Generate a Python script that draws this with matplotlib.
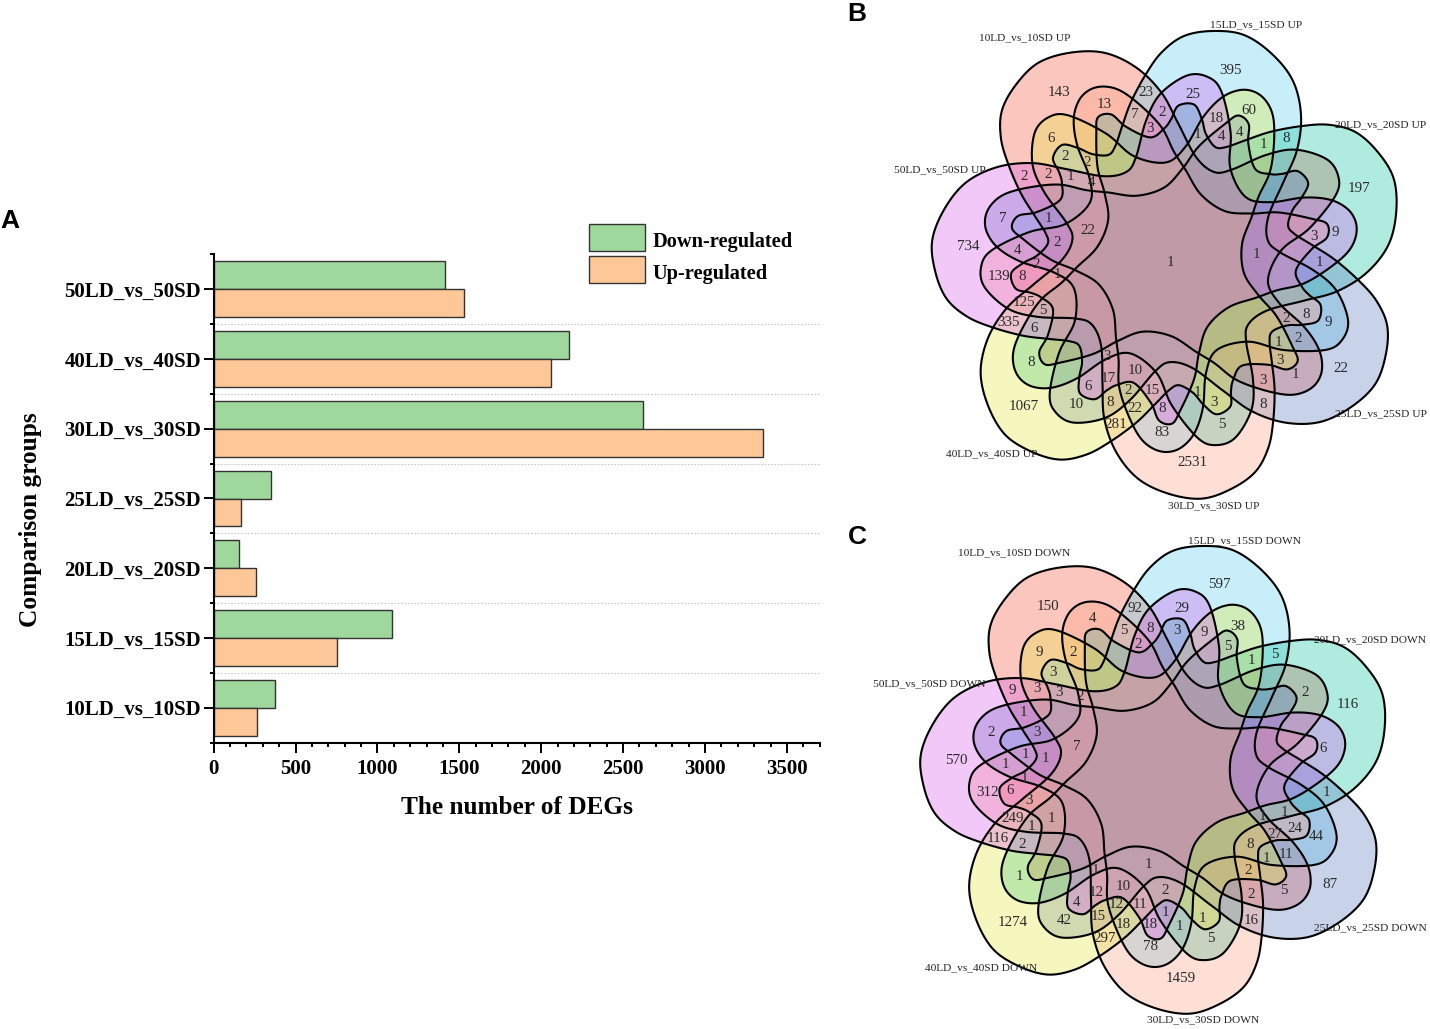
import numpy as np
import matplotlib
matplotlib.use('Agg')
import matplotlib.pyplot as plt
from matplotlib.patches import Patch, Polygon

plt.rcParams['font.family'] = ['Liberation Serif', 'DejaVu Serif']

# bar chart values
groups = ['10LD_vs_10SD', '15LD_vs_15SD', '20LD_vs_20SD', '25LD_vs_25SD',
          '30LD_vs_30SD', '40LD_vs_40SD', '50LD_vs_50SD']
down_regulated = [375, 1087, 155, 353, 2624, 2168, 1414]
up_regulated = [265, 754, 259, 165, 3352, 2058, 1530]

# venn counts, one entry per region, None where the region has no number
region_up = [143, 395, 23, 25, 13, 60, 7, 2, 18, 3, None, 6, 4, 4, 1, 1, 8, None, 2, 2,
             2, 2, 1, 4, 197, None, 7, 1, None, 22, 9, 3, 734, 2, 1, 4, None, 1, 1, 2,
             1, 139, 8, None, 125, 5, None, 335, 6, 8, 3, None, 10, 17, 6, 15, None, 1, 3, 2,
             8, 22, 8, None, None, 10, 281, 83, 5, 1067, 2531, 22, 9, 8, 2, 2, 1, 3, None, None,
             1, 3, 8, None, None, None]
region_down = [150, 597, 92, 29, 4, 38, 5, 8, 9, 2, 3, 9, 5, None, None, 1, 5, 2, 3, None,
               9, 3, 3, 2, 116, 2, 2, 3, 1, 7, 6, None, 570, 1, None, 1, 1, None, None, 1,
               None, 312, 6, 3, 249, 1, 1, 116, 2, 1, 1, 1, 10, 12, 4, 11, 2, None, 1, 12,
               15, 18, 18, 1, 1, 42, 297, 78, 5, 1274, 1459, 87, 44, 24, 27, 11, 1, None, 8, 2,
               5, 2, 16, 1, 1, 1]

# where each region's number sits, pixels from the venn centre
region_xy = [(-111, -171), (61, -193), (-24, -170), (23, -169), (-66, -159), (79, -152),
             (-35, -148), (-8, -150), (46, -145), (-20, -134), (19, -148), (-119, -125),
             (69, -131), (52, -126), (27, -128), (93, -118), (116, -124), (-85, -125),
             (-105, -106), (-83, -101), (-146, -87), (-122, -89), (-100, -86), (-78, -81),
             (189, -74), (147, -86), (-167, -45), (-122, -45), (-135, -65), (-82, -32),
             (165, -30), (144, -27), (-202, -17), (-113, -20), (86, -9), (-153, -13),
             (-133, -23), (149, -1), (0, -1), (-134, 1), (-113, 11), (-171, 14), (-148, 13),
             (-129, 23), (-146, 40), (-127, 48), (-107, 40), (-161, 60), (-136, 66),
             (-139, 99), (-63, 93), (-10, 86), (-35, 108), (-62, 115), (-82, 124), (-18, 127),
             (7, 113), (27, 129), (44, 140), (-42, 127), (-60, 139), (-35, 146), (-8, 146),
             (7, 134), (21, 149), (-94, 142), (-54, 161), (-8, 169), (52, 161), (-146, 144),
             (22, 200), (171, 106), (158, 59), (136, 51), (116, 56), (128, 76), (108, 80),
             (110, 97), (92, 67), (90, 93), (125, 112), (93, 117), (93, 142), (104, 38),
             (126, 34), (168, 15)]

# outline of the 15LD set, pixels from the centre, clockwise from the lobe's left crossing
outline = np.array([
    (-24, -188), (-8, -210), (14, -226), (43, -231), (74, -227), (102, -208),
    (123, -181), (131, -147), (127, -112), (113.5, -80.1), (98.4, -45.5),
    (97.6, -22.4), (109.9, -9.8), (143, 8), (166, 28), (178, 58), (172, 78), (155, 88),
    (113.5, 88), (78.4, 79.7), (46.8, 88), (36, 111), (33, 145), (25, 170),
    (12, 185), (-3, 190), (-18, 186), (-31, 174), (-43, 150), (-51, 124),
    (-51.4, 98), (-54, 76), (-57.2, 47.2), (-71.4, 22.2), (-94.5, 8.3), (-119.7, -2.7),
    (-147, -23), (-158, -34), (-152, -46), (-133, -50), (-109.8, -62.2), (-108.1, -78.9),
    (-111, -90), (-117, -104), (-108, -117), (-92, -114), (-78, -108), (-62, -107), (-55, -115.3),
    (-48, -135.3), (-39, -160)], dtype=float)

# sets going counter-clockwise from 15LD
set_names = ['15LD_vs_15SD', '10LD_vs_10SD', '50LD_vs_50SD', '40LD_vs_40SD',
             '30LD_vs_30SD', '25LD_vs_25SD', '20LD_vs_20SD']
set_colors = ['#56d0ef', '#f35037', '#d656ec', '#e3e63a', '#fc9e82', '#5676bd', '#0bc19e']
# painted 10, 15, 20, 25, 30, 40, 50
paint_order = [1, 0, 6, 5, 4, 3, 2]


def smooth_closed(pts, n=16):
    # closed Catmull-Rom through the traced points
    t = np.linspace(0, 1, n, endpoint=False)[:, None]
    p0, p1, p2, p3 = np.roll(pts, 1, axis=0), pts, np.roll(pts, -1, axis=0), np.roll(pts, -2, axis=0)
    out = []
    for a, b, c, d in zip(p0, p1, p2, p3):
        out.append(0.5 * (2 * b + (c - a) * t + (2 * a - 5 * b + 4 * c - d) * t ** 2
                          + (3 * b - a - 3 * c + d) * t ** 3))
    return np.vstack(out)


def draw_venn(ax, cx, cy, counts, suffix, label_pos):
    curve = smooth_closed(outline)
    shapes = []
    for k in range(7):
        a = k * 2 * np.pi / 7
        x = curve[:, 0] * np.cos(a) + curve[:, 1] * np.sin(a)
        y = -curve[:, 0] * np.sin(a) + curve[:, 1] * np.cos(a)
        shapes.append(np.column_stack([x + cx, y + cy]))
    for k in paint_order:
        ax.add_patch(Polygon(shapes[k], closed=True, facecolor=set_colors[k], edgecolor='none', alpha=0.32))
    for xy in shapes:
        ax.add_patch(Polygon(xy, closed=True, fill=False, edgecolor='black', linewidth=1.5))
    for value, (dx, dy) in zip(counts, region_xy):
        if value is not None:
            ax.text(cx + dx, cy + dy + 1, str(value), fontsize=10.8, color='#2a2a2a',
                    ha='center', va='center')
    for name, (x, y) in zip(set_names, label_pos):
        ax.text(x, y, name + ' ' + suffix, fontsize=8.2, color='#222222', ha='center', va='center')


fig = plt.figure(figsize=(14.3, 10.29), dpi=100)
W, H = 1430.0, 1029.0

# panel A
ax = fig.add_axes([213.6 / W, 1 - 742.7 / H, (820 - 213.6) / W, (742.7 - 254.3) / H])
pos = np.arange(len(groups))
bar_h = 0.4
ax.barh(pos + bar_h / 2, down_regulated, bar_h, color='#9fd89c', edgecolor='#333333', linewidth=1.0)
ax.barh(pos - bar_h / 2, up_regulated, bar_h, color='#fec797', edgecolor='#333333', linewidth=1.0)
ax.set_xlim(0, 3702)
ax.set_ylim(-0.5, 6.5)
ax.set_xticks(np.arange(0, 3501, 500))
ax.set_xticks(np.arange(0, 3701, 100), minor=True)
ax.set_yticks(pos)
ax.set_yticklabels(groups)
ax.set_yticks(np.arange(-0.5, 6.6, 1), minor=True)
for y in np.arange(0.5, 6, 1):
    ax.axhline(y, color='#c8c8c8', linewidth=0.8, linestyle=(0, (1.5, 1.5)), zorder=0)
for side in ['top', 'right']:
    ax.spines[side].set_visible(False)
for side in ['left', 'bottom']:
    ax.spines[side].set_linewidth(1.5)
ax.tick_params(axis='both', which='major', length=7, width=1.4, pad=2)
ax.tick_params(axis='both', which='minor', length=3.2, width=1.4)
ax.tick_params(axis='x', which='major', pad=5)
for t in ax.get_xticklabels():
    t.set_fontsize(15)
    t.set_fontweight('bold')
for t in ax.get_yticklabels():
    t.set_fontsize(15)
    t.set_fontweight('bold')
handles = [Patch(facecolor='#9fd89c', edgecolor='#333333', linewidth=1.0),
           Patch(facecolor='#fec797', edgecolor='#333333', linewidth=1.0)]
leg = ax.legend(handles, ['Down-regulated', 'Up-regulated'], loc='upper left', frameon=False,
                bbox_to_anchor=(589 / W, 1 - 224 / H), bbox_transform=fig.transFigure,
                borderaxespad=0, borderpad=0, handlelength=2.74, handleheight=1.69, handletextpad=0.39,
                labelspacing=0.22, prop={'size': 14.7, 'weight': 'bold'})
for t in leg.get_texts():
    t.set_position((0, -3))

# overlay in picture pixels for the venns and loose text
over = fig.add_axes([0, 0, 1, 1])
over.set_xlim(0, W)
over.set_ylim(H, 0)
over.axis('off')
over.patch.set_alpha(0)

over.text(516.6, 807, 'The number of DEGs', fontsize=18.2, fontweight='bold', ha='center', va='center')
over.text(31, 520, 'Comparison groups', fontsize=18.3, fontweight='bold', rotation=90, ha='center', va='center')
for letter, x, y in [('A', 10, 221), ('B', 857, 14), ('C', 857, 537)]:
    over.text(x, y, letter, fontsize=19, fontweight='bold', family=['Liberation Sans'], ha='center', va='center')

up_labels = [(1256, 25), (1025, 38), (940, 170), (992, 454), (1214, 506), (1381, 414), (1381, 125)]
down_labels = [(1245, 541), (1014, 553), (929, 684), (981, 968), (1203, 1020), (1370, 928), (1370, 640)]
draw_venn(over, 1170, 262, region_up, 'UP', up_labels)
draw_venn(over, 1158.5, 777, region_down, 'DOWN', down_labels)

fig.savefig('out.png', dpi=100)
